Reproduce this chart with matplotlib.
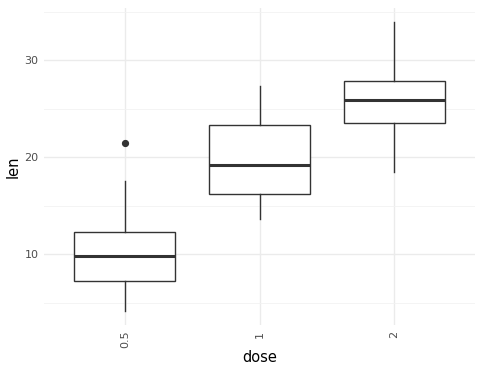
import matplotlib.pyplot as plt
import numpy as np

# ToothGrowth len values, grouped by dose
dose_labels = ['0.5', '1', '2']
len_05 = [4.2, 11.5, 7.3, 5.8, 6.4, 10.0, 11.2, 11.2, 5.2, 7.0,
          15.2, 21.5, 17.6, 9.7, 14.5, 10.0, 8.2, 9.4, 16.5, 9.7]
len_1 = [16.5, 16.5, 15.2, 17.3, 22.5, 17.3, 13.6, 14.5, 18.8, 15.5,
         19.7, 23.3, 23.6, 26.4, 20.0, 25.2, 25.8, 21.2, 14.5, 27.3]
len_2 = [23.6, 18.5, 33.9, 25.5, 26.4, 32.5, 26.7, 21.5, 23.3, 29.5,
         25.5, 26.4, 22.4, 24.5, 24.8, 30.9, 26.4, 27.3, 29.4, 23.0]

grupos = [len_05, len_1, len_2]

fig = plt.figure(figsize=(4.82, 3.74), dpi=100)
ax = fig.add_axes([0.0913, 0.131, 0.8942, 0.8475])

box_col = '#333333'
ax.boxplot(grupos, positions=[1, 2, 3], widths=0.75, whis=1.5,
           patch_artist=True,
           boxprops=dict(facecolor='white', edgecolor=box_col, linewidth=1.0),
           medianprops=dict(color=box_col, linewidth=2.2),
           whiskerprops=dict(color=box_col, linewidth=1.0),
           capprops=dict(linewidth=0),
           flierprops=dict(marker='o', markerfacecolor=box_col,
                           markeredgecolor=box_col, markersize=4.2),
           zorder=3)

todos = np.concatenate(grupos)
rango = todos.max() - todos.min()
ax.set_ylim(todos.min() - 0.05 * rango, todos.max() + 0.05 * rango)
ax.set_xlim(0.4, 3.6)

ax.set_yticks([10, 20, 30])
ax.set_yticks([5, 15, 25, 35], minor=True)
ax.set_xticks([1, 2, 3])
ax.set_xticklabels(dose_labels, rotation=90)

ax.grid(True, which='major', color='#EBEBEB', linewidth=1.0, zorder=0)
ax.grid(True, which='minor', axis='y', color='#F2F2F2', linewidth=0.6, zorder=0)
ax.set_axisbelow(True)

for s in ax.spines.values():
    s.set_visible(False)
ax.tick_params(which='both', length=0, labelsize=8, labelcolor='#4D4D4D', pad=4)

ax.set_xlabel('dose', fontsize=10.5, labelpad=1)
ax.set_ylabel('len', fontsize=10.5, labelpad=3)

plt.savefig('out.png', dpi=100)
